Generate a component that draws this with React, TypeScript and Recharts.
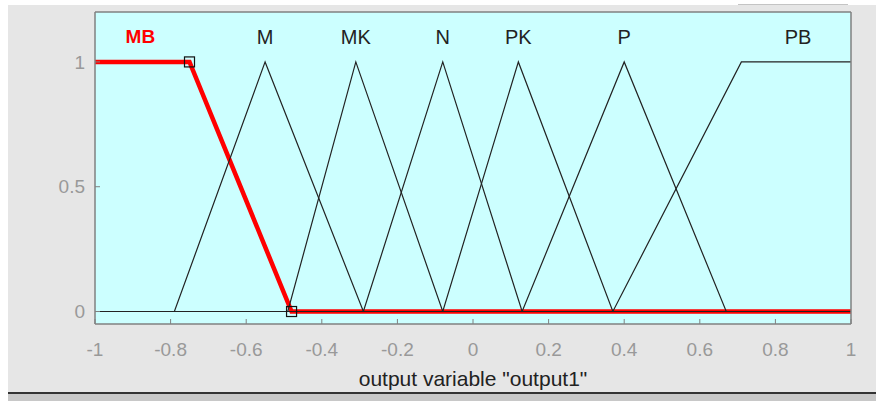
import React from 'react';
import { ComposedChart, Line, Scatter, XAxis, YAxis, CartesianGrid } from 'recharts';

const xTicks = [-1, -0.8, -0.6, -0.4, -0.2, 0, 0.2, 0.4, 0.6, 0.8, 1];
const yTicks = [0, 0.5, 1];

// membership functions, breakpoints and degree at each breakpoint
const mbX = [-1, -0.75, -0.48, 1];
const mbY = [1, 1, 0, 0];
const mbMarked = [0, 1, 1, 0];
const mX = [-1, -0.79, -0.55, -0.29, 1];
const mY = [0, 0, 1, 0, 0];
const mkX = [-1, -0.49, -0.31, -0.08, 1];
const mkY = [0, 0, 1, 0, 0];
const nX = [-1, -0.29, -0.08, 0.13, 1];
const nY = [0, 0, 1, 0, 0];
const pkX = [-1, -0.08, 0.12, 0.37, 1];
const pkY = [0, 0, 1, 0, 0];
const pX = [-1, 0.13, 0.4, 0.67, 1];
const pY = [0, 0, 1, 0, 0];
const pbX = [-1, 0.37, 0.71, 1];
const pbY = [0, 0, 1, 1];

const mfNames = ['MB', 'M', 'MK', 'N', 'PK', 'P', 'PB'];
const labelX = [-0.88, -0.55, -0.31, -0.08, 0.12, 0.4, 0.86];
const labelY = 1.1;

const FONT = '"Liberation Sans", Arial, Helvetica, sans-serif';

const pts = (xs: number[], ys: number[]) => xs.map((x, i) => ({ x, y: ys[i] }));

const mbData = mbX.map((x, i) => ({ x, y: mbY[i], mark: mbMarked[i] }));
const blackMfs = [
  pts(mX, mY),
  pts(mkX, mkY),
  pts(nX, nY),
  pts(pkX, pkY),
  pts(pX, pY),
  pts(pbX, pbY),
];
const labelData = mfNames.map((name, i) => ({ x: labelX[i], y: labelY, name }));

const SquareDot = (props: any) => {
  const { cx, cy, payload, index } = props;
  if (!payload || !payload.mark) return <g key={`d${index}`} />;
  return (
    <rect key={`d${index}`} x={cx - 5} y={cy - 5} width={10} height={10}
      fill="none" stroke="#111" strokeWidth={1.2} />
  );
};

const MfLabel = (props: any) => {
  const { cx, cy, payload } = props;
  const selected = payload.name === 'MB';
  return (
    <text x={cx} y={cy} textAnchor="middle" dominantBaseline="central"
      fontFamily={FONT} fontSize={selected ? 19 : 20} fontWeight={selected ? 'bold' : 'normal'}
      fill={selected ? '#ff0000' : '#222'}>
      {payload.name}
    </text>
  );
};

export default function App() {
  const axisLine = { stroke: '#808080', strokeWidth: 1.5 };
  const tickStyle = { fill: '#999', fontSize: 19, fontFamily: FONT };
  return (
    <div style={{ position: 'absolute', left: 0, top: 0, width: 876, height: 401, background: '#fff' }}>
      <div style={{ position: 'absolute', left: 738, top: 4, width: 110, height: 1, background: '#c4c4c4' }} />
      <div style={{ position: 'absolute', left: 8, top: 5, width: 868, height: 388, background: '#e6e6e6' }}>
        <ComposedChart width={868} height={388} margin={{ top: 2, right: 20, bottom: 7, left: 47 }}>
          <CartesianGrid horizontal={false} vertical={false} fill="#ccffff" />
          <XAxis xAxisId={0} dataKey="x" type="number" domain={[-1, 1]} ticks={xTicks}
            height={62} tickSize={-5} tickMargin={24} axisLine={axisLine}
            tickLine={{ stroke: '#808080' }} tick={tickStyle} interval={0}
            label={{ value: 'output variable "output1"', position: 'insideBottom', offset: 0,
              fill: '#222', fontSize: 21, fontFamily: FONT }} />
          <XAxis xAxisId="top" orientation="top" dataKey="x" type="number" domain={[-1, 1]}
            ticks={xTicks} height={5} tickSize={-4} axisLine={axisLine}
            tickLine={{ stroke: '#808080' }} tick={false} interval={0} />
          <YAxis yAxisId={0} type="number" domain={[-0.05, 1.2]} ticks={yTicks} width={40}
            tickSize={-5} tickMargin={15} axisLine={axisLine} tickLine={{ stroke: '#808080' }}
            tick={tickStyle} interval={0} />
          <YAxis yAxisId="right" orientation="right" type="number" domain={[-0.05, 1.2]}
            ticks={yTicks} width={5} tickSize={-4} axisLine={axisLine}
            tickLine={{ stroke: '#808080' }} tick={false} interval={0} />
          <Line data={mbData} dataKey="y" type="linear" stroke="#ff0000" strokeWidth={4.5}
            dot={<SquareDot />} activeDot={false} isAnimationActive={false} />
          {blackMfs.map((d, i) => (
            <Line key={i} data={d} dataKey="y" type="linear" stroke="#222" strokeWidth={1.2}
              dot={false} activeDot={false} isAnimationActive={false} />
          ))}
          <Scatter data={labelData} dataKey="y" shape={<MfLabel />} isAnimationActive={false} />
        </ComposedChart>
      </div>
      <div style={{ position: 'absolute', left: 8, top: 392, width: 868, height: 2, background: '#333' }} />
      <div style={{ position: 'absolute', left: 8, top: 394, width: 868, height: 7, background: '#c8c8c8' }} />
    </div>
  );
}
